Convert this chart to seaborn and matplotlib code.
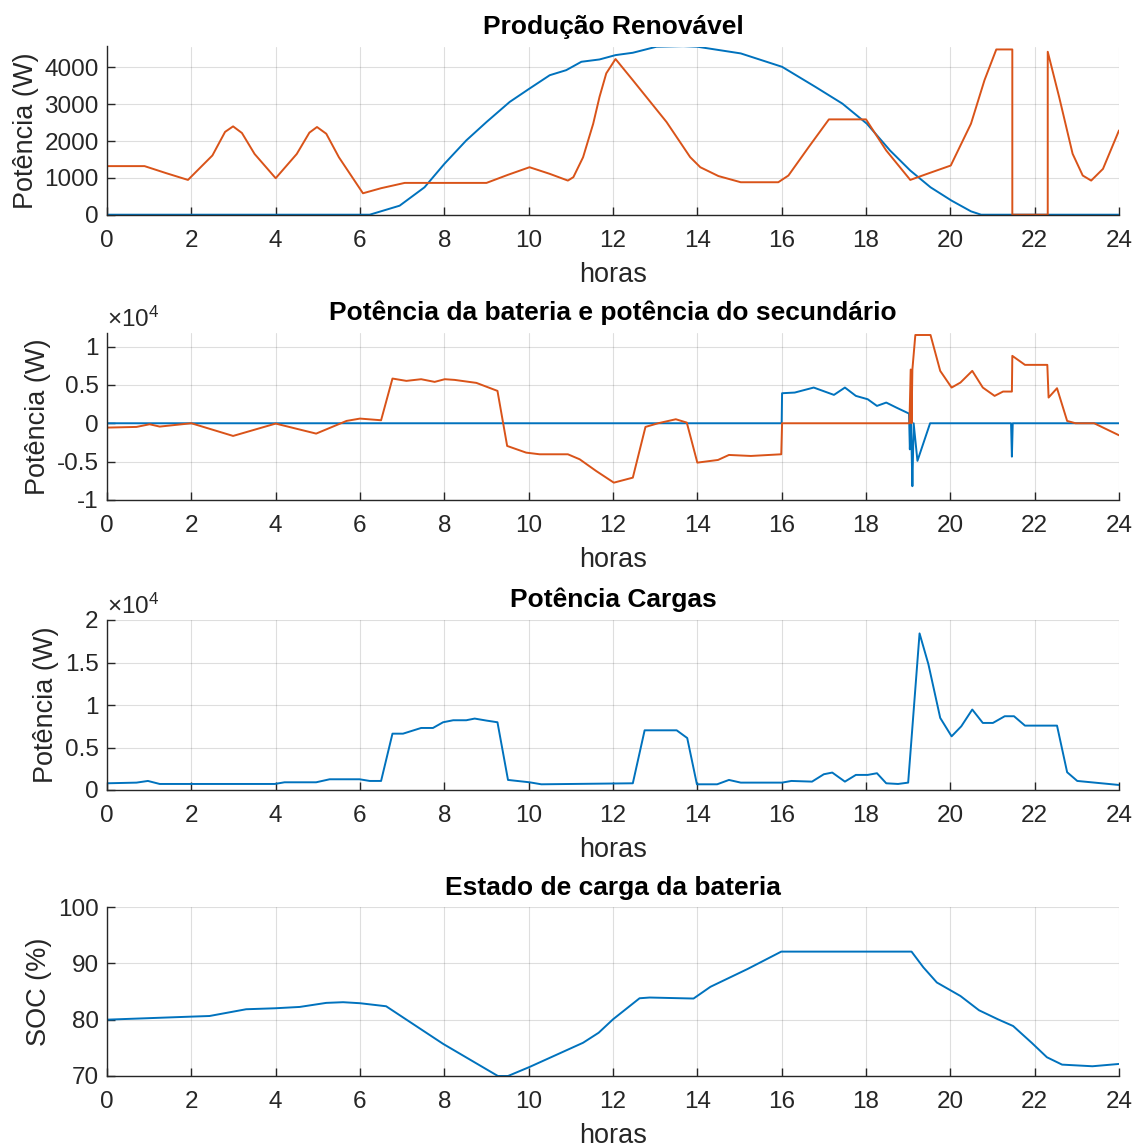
import pandas as pd
import matplotlib
matplotlib.use("Agg")
import matplotlib.pyplot as plt
import seaborn as sns

# ============================================================================
# DATA
# ============================================================================
# Produção renovável - curva azul
h_pv = [0, 6.23, 6.94, 7.53, 8.0, 8.52, 9.0, 9.55, 10.02, 10.5, 10.89, 11.25, 11.68, 12.06, 12.47,
        13.03, 13.67, 14.0, 15.03, 16.01, 16.8, 17.44, 18.02, 18.57, 19.05, 19.53, 20.03, 20.49, 20.73, 24]
p_pv = [0, 0, 245, 745, 1380, 2018, 2518, 3064, 3427, 3790, 3927, 4155, 4218, 4336, 4400,
        4564, 4580, 4564, 4382, 4018, 3473, 3018, 2473, 1745, 1200, 745, 382, 91, 0, 0]

# Produção renovável - curva laranja
h_eol = [0, 0.89, 1.4, 1.92, 2.5, 2.8, 2.99, 3.2, 3.5, 4.0, 4.5, 4.8, 4.98, 5.2, 5.5, 6.07, 6.5, 7.06,
         9.0, 9.5, 10.02, 10.5, 10.93, 11.06, 11.29, 11.53, 11.68, 11.84, 12.06, 12.47, 13.27, 13.83,
         14.07, 14.5, 15.03, 15.92, 16.16, 16.64, 17.12, 18.0, 18.48, 19.05, 19.45, 20.01, 20.49, 20.81,
         21.09, 21.47, 21.47, 22.31, 22.31, 22.58, 22.9, 23.14, 23.34, 23.62, 24.0]
p_eol = [1320, 1320, 1130, 945, 1610, 2250, 2400, 2220, 1650, 991, 1650, 2230, 2382, 2200, 1560, 582, 720, 864,
         864, 1080, 1290, 1110, 927, 1020, 1560, 2470, 3200, 3840, 4230, 3655, 2518, 1564,
         1290, 1050, 882, 882, 1064, 1836, 2590, 2590, 1745, 945, 1110, 1336, 2473, 3655,
         4490, 4490, 0, 0, 4427, 3200, 1655, 1064, 927, 1245, 2290]

# Bateria / secundário - curva azul
h_bat = [0, 16.0, 16.01, 16.31, 16.76, 17.24, 17.5, 17.76, 18.04, 18.26, 18.48, 18.72, 19.02,
         19.04, 19.06, 19.08, 19.10, 19.13, 19.22, 19.52, 21.44, 21.46, 21.48, 24]
p_bat = [0, 0, 3913, 4000, 4652, 3696, 4652, 3565, 3130, 2261, 2696, 2043, 1261,
         -3400, 0, -3000, -8200, 0, -4900, 0, 0, -4350, 0, 0]

# Bateria / secundário - curva laranja
h_sec = [0, 0.7, 1.01, 1.25, 2.0, 2.99, 4.0, 4.96, 5.68, 6.0, 6.5, 6.77, 7.1, 7.45, 7.77, 8.01, 8.24,
         8.76, 9.26, 9.49, 9.94, 10.26, 10.93, 11.21, 11.6, 12.02, 12.47, 12.77, 13.07, 13.49, 13.75,
         14.0, 14.49, 14.75, 15.27, 15.99, 16.01, 19.03, 19.06, 19.08, 19.10, 19.17, 19.53, 19.76,
         20.03, 20.24, 20.52, 20.77, 21.05, 21.25, 21.46, 21.47, 21.77, 22.3, 22.33, 22.53, 22.77,
         22.97, 23.41, 24.0]
p_sec = [-565, -478, -130, -435, 0, -1652, -43, -1348, 304, 609, 391, 5826, 5522, 5739, 5391, 5739, 5652,
         5261, 4217, -2957, -3826, -4043, -4043, -4696, -6217, -7739, -7087, -478, 0, 522, 87,
         -5130, -4783, -4130, -4261, -4043, 0, 0, 7000, 0, 7000, 11500, 11500, 6826,
         4652, 5304, 6826, 4652, 3565, 4130, 4130, 8783, 7609, 7609, 3348, 4565, 304,
         0, 0, -1565]

# Potência das cargas
h_carga = [0, 0.7, 0.97, 1.25, 3.98, 4.21, 4.96, 5.28, 5.99, 6.23, 6.5, 6.77, 7.02, 7.45, 7.73, 7.97,
           8.21, 8.52, 8.72, 9.0, 9.26, 9.51, 10.02, 10.3, 12.47, 12.75, 13.51, 13.76, 13.99, 14.47,
           14.75, 15.03, 16.01, 16.23, 16.72, 17.0, 17.2, 17.5, 17.76, 18.04, 18.26, 18.48, 18.76,
           19.0, 19.27, 19.48, 19.76, 20.03, 20.26, 20.52, 20.77, 21.01, 21.29, 21.51, 21.77, 22.53,
           22.77, 23.01, 24.0]
p_carga = [789, 868, 1065, 710, 710, 907, 907, 1262, 1262, 1065, 1065, 6628, 6628, 7298, 7298, 7969,
           8206, 8206, 8403, 8166, 7969, 1184, 907, 671, 789, 7022, 7022, 6115, 671, 671,
           1184, 868, 868, 1065, 986, 1854, 2051, 986, 1775, 1775, 1973, 789, 710,
           868, 18423, 14794, 8482, 6312, 7496, 9468, 7890, 7890, 8679, 8679, 7574, 7574,
           2091, 1065, 592]

# Estado de carga da bateria
h_soc = [0, 2.0, 2.43, 3.3, 3.98, 4.57, 5.2, 5.6, 6.0, 6.62, 7.97, 9.27, 9.51, 10.02, 11.29, 11.66,
         12.0, 12.63, 12.87, 13.91, 14.31, 15.19, 15.99, 19.08, 19.36, 19.68, 20.03, 20.24, 20.68,
         21.13, 21.49, 21.93, 22.29, 22.65, 23.37, 24.0]
soc = [80.0, 80.54, 80.65, 81.85, 82.02, 82.26, 82.98, 83.1, 82.92, 82.38, 75.71, 70.0, 70.0, 71.6, 75.9, 77.68,
       80.06, 83.8, 83.93, 83.75, 85.83, 88.99, 92.08, 92.08, 89.29, 86.6, 85.1, 84.2, 81.67,
       80.06, 78.87, 75.89, 73.33, 72.02, 71.73, 72.14]

x_ticks = list(range(0, 25, 2))

# ============================================================================
# STYLING
# ============================================================================
sns.set_theme(style="whitegrid")
plt.rcParams['font.family'] = ['Liberation Sans', 'DejaVu Sans']
plt.rcParams['mathtext.default'] = 'regular'

AZUL = '#0072BD'
LARANJA = '#D95319'
EIXO = '#262626'

fig = plt.figure(figsize=(11.4, 11.47), dpi=100)
W, H = 1140, 1147
left, right = 107, 1119
# (topo, base) de cada eixo em pixels
caixas = [(46.5, 214.7), (332.7, 500.0), (620.0, 790.0), (907.0, 1076.0)]
axes = [fig.add_axes([left / W, 1 - b / H, (right - left) / W, (b - t) / H]) for t, b in caixas]


def estilo(ax, titulo, ylabel):
    ax.set_facecolor('white')
    ax.set_xlim(0, 24)
    ax.set_xticks(x_ticks)
    ax.grid(True, color=EIXO, alpha=0.15, linewidth=0.8)
    for lado in ['top', 'right']:
        ax.spines[lado].set_visible(False)
    for lado in ['left', 'bottom']:
        ax.spines[lado].set_visible(True)
        ax.spines[lado].set_color(EIXO)
        ax.spines[lado].set_linewidth(1.0)
    ax.tick_params(direction='in', length=6, width=1.0, color=EIXO,
                   labelsize=17.5, labelcolor=EIXO, left=True, bottom=True)
    ax.tick_params(axis='x', pad=11)
    ax.tick_params(axis='y', pad=6)
    ax.set_title(titulo, fontsize=19, fontweight='bold', color='black', pad=9)
    ax.set_xlabel('horas', fontsize=19.5, color=EIXO, labelpad=7)
    ax.set_ylabel(ylabel, fontsize=19.5, color=EIXO, labelpad=4)


def linha(ax, h, v, cor):
    df = pd.DataFrame({'h': h, 'v': v})
    sns.lineplot(data=df, x='h', y='v', ax=ax, color=cor, linewidth=1.4,
                 estimator=None, sort=False)


def fmt_g(escala):
    return plt.FuncFormatter(lambda y, _: f'{y / escala:g}')


# ============================================================================
# 1 - Produção Renovável
# ============================================================================
ax = axes[0]
linha(ax, h_pv, p_pv, AZUL)
linha(ax, h_eol, p_eol, LARANJA)
estilo(ax, 'Produção Renovável', 'Potência (W)')
ax.set_ylim(0, 4570)
ax.set_yticks([0, 1000, 2000, 3000, 4000])

# ============================================================================
# 2 - Bateria e secundário
# ============================================================================
ax = axes[1]
linha(ax, h_bat, p_bat, AZUL)
linha(ax, h_sec, p_sec, LARANJA)
estilo(ax, 'Potência da bateria e potência do secundário', 'Potência (W)')
ax.set_ylim(-10000, 11800)
ax.set_yticks([-10000, -5000, 0, 5000, 10000])
ax.yaxis.set_major_formatter(fmt_g(1e4))
ax.text(0.0, 1.005, '×10$^{4}$', transform=ax.transAxes, ha='left', va='bottom',
        fontsize=17.5, color=EIXO)

# ============================================================================
# 3 - Potência Cargas
# ============================================================================
ax = axes[2]
linha(ax, h_carga, p_carga, AZUL)
estilo(ax, 'Potência Cargas', 'Potência (W)')
ax.set_ylim(0, 20000)
ax.set_yticks([0, 5000, 10000, 15000, 20000])
ax.yaxis.set_major_formatter(fmt_g(1e4))
ax.text(0.0, 1.005, '×10$^{4}$', transform=ax.transAxes, ha='left', va='bottom',
        fontsize=17.5, color=EIXO)

# ============================================================================
# 4 - Estado de carga
# ============================================================================
ax = axes[3]
linha(ax, h_soc, soc, AZUL)
estilo(ax, 'Estado de carga da bateria', 'SOC (%)')
ax.set_ylim(70, 100)
ax.set_yticks([70, 80, 90, 100])

# ============================================================================
# SAVE
# ============================================================================
fig.savefig('out.png', dpi=100)
